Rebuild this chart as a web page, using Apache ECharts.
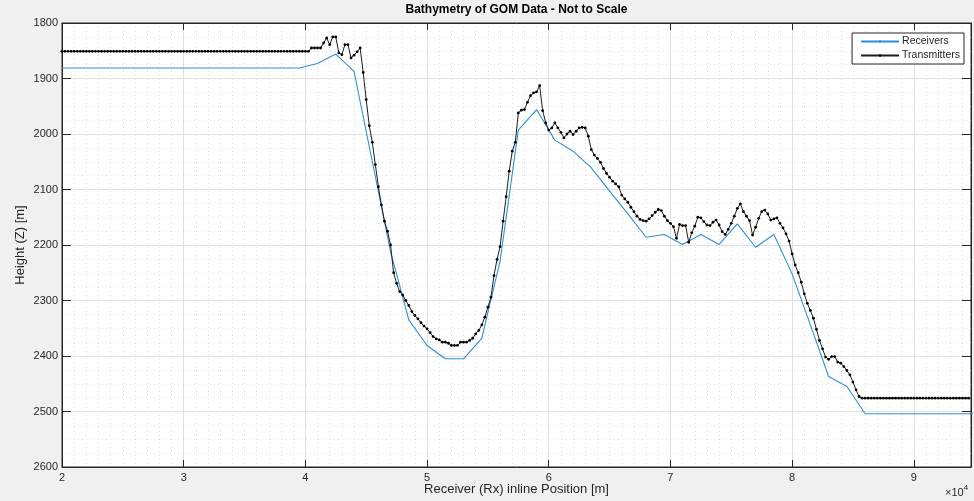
<!DOCTYPE html>
<html>
<head>
<meta charset="utf-8">
<script src="https://cdn.jsdelivr.net/npm/echarts@6/dist/echarts.min.js"></script>
<style>
html,body{margin:0;padding:0;background:#f0f0f0;}
#chart{width:974px;height:501px;}
</style>
</head>
<body>
<div id="chart"></div>
<script>
// ---- Data (x in metres, depth Z in metres) ----
const chartTitle = 'Bathymetry of GOM Data - Not to Scale';
const xAxisTitle = 'Receiver (Rx) inline Position [m]';
const yAxisTitle = 'Height (Z) [m]';
const seriesNames = ['Receivers', 'Transmitters'];
const xTickLabels = ['2','3','4','5','6','7','8','9'];
const yTickLabels = ['1800','1900','2000','2100','2200','2300','2400','2500','2600'];

const rxX = [20000,21500,23000,24500,26000,27500,29000,30500,32000,33500,35000,36500,38000,39500,
  41000,42500,44000,45500,47000,48500,50000,51500,53000,54500,56000,57500,59000,60500,62000,63500,
  65000,66500,68000,69500,71000,72500,74000,75500,77000,78500,80000,81500,83000,84500,86000,
  87500,89000,90500,92000,93500,95000];
const rxZ = [1881,1881,1881,1881,1881,1881,1881,1881,1881,1881,1881,1881,1881,1881,
  1873,1856,1887,2050,2212,2335,2381,2405,2405,2368,2229,1993,1956,2011,2031,2061,
  2103,2144,2186,2181,2199,2181,2199,2162,2204,2181,2252,2344,2437,2455,2504,
  2504,2504,2504,2504,2504,2504];

const txX = [
  20000,20250,20500,20750,21000,21250,21500,21750,
  22000,22250,22500,22750,23000,23250,23500,23750,
  24000,24250,24500,24750,25000,25250,25500,25750,
  26000,26250,26500,26750,27000,27250,27500,27750,
  28000,28250,28500,28750,29000,29250,29500,29750,
  30000,30250,30500,30750,31000,31250,31500,31750,
  32000,32250,32500,32750,33000,33250,33500,33750,
  34000,34250,34500,34750,35000,35250,35500,35750,
  36000,36250,36500,36750,37000,37250,37500,37750,
  38000,38250,38500,38750,39000,39250,39500,39750,
  40000,40250,40500,40750,41000,41250,41500,41750,
  42000,42250,42500,42750,43000,43250,43500,43750,
  44000,44250,44500,44750,45000,45250,45500,45750,
  46000,46250,46500,46750,47000,47250,47500,47750,
  48000,48250,48500,48750,49000,49250,49500,49750,
  50000,50250,50500,50750,51000,51250,51500,51750,
  52000,52250,52500,52750,53000,53250,53500,53750,
  54000,54250,54500,54750,55000,55250,55500,55750,
  56000,56250,56500,56750,57000,57250,57500,57750,
  58000,58250,58500,58750,59000,59250,59500,59750,
  60000,60250,60500,60750,61000,61250,61500,61750,
  62000,62250,62500,62750,63000,63250,63500,63750,
  64000,64250,64500,64750,65000,65250,65500,65750,
  66000,66250,66500,66750,67000,67250,67500,67750,
  68000,68250,68500,68750,69000,69250,69500,69750,
  70000,70250,70500,70750,71000,71250,71500,71750,
  72000,72250,72500,72750,73000,73250,73500,73750,
  74000,74250,74500,74750,75000,75250,75500,75750,
  76000,76250,76500,76750,77000,77250,77500,77750,
  78000,78250,78500,78750,79000,79250,79500,79750,
  80000,80250,80500,80750,81000,81250,81500,81750,
  82000,82250,82500,82750,83000,83250,83500,83750,
  84000,84250,84500,84750,85000,85250,85500,85750,
  86000,86250,86500,86750,87000,87250,87500,87750,
  88000,88250,88500,88750,89000,89250,89500,89750,
  90000,90250,90500,90750,91000,91250,91500,91750,
  92000,92250,92500,92750,93000,93250,93500,93750,
  94000,94250,94500,94750];
const txZ = [
  1851,1851,1851,1851,1851,1851,1851,1851,1851,1851,
  1851,1851,1851,1851,1851,1851,1851,1851,1851,1851,
  1851,1851,1851,1851,1851,1851,1851,1851,1851,1851,
  1851,1851,1851,1851,1851,1851,1851,1851,1851,1851,
  1851,1851,1851,1851,1851,1851,1851,1851,1851,1851,
  1851,1851,1851,1851,1851,1851,1851,1851,1851,1851,
  1851,1851,1851,1851,1851,1851,1851,1851,1851,1851,
  1851,1851,1851,1851,1851,1851,1851,1851,1851,1851,
  1851,1851,
  1845,1845,1845,1845,1836,1827,1839,1825,1825,1854,
  1857,1839,1839,1863,1858,1852,1845,1889,1938,1985,
  2015,2055,2095,2128,2157,2175,2200,2250,2269,2284,
  2290,2300,2309,2320,2327,2333,2340,2346,2351,2358,
  2365,2369,2371,2375,2375,2377,2381,2381,2381,2375,
  2375,2375,2372,2368,2360,2354,2344,2330,2312,2294,
  2255,2226,2203,2157,2113,2067,2031,2015,1962,1957,
  1956,1943,1931,1926,1924,1913,1958,1980,1993,1989,
  1980,1989,1997,2007,2000,1995,2001,1995,1989,1988,
  1989,2004,2028,2038,2044,2051,2062,2071,2078,2085,
  2090,2095,2110,2117,2123,2132,2140,2148,2154,2156,
  2157,2153,2147,2141,2136,2138,2148,2156,2161,2167,
  2188,2163,2165,2165,2195,2178,2166,2150,2151,2158,
  2164,2165,2159,2155,2164,2176,2181,2172,2161,2148,
  2134,2126,2140,2148,2156,2182,2168,2152,2140,2137,
  2144,2155,2153,2151,2161,2169,2180,2193,2216,2236,
  2250,2267,2288,2305,2318,2332,2352,2372,2387,2402,
  2406,2401,2401,2411,2413,2419,2426,2434,2447,2461,
  2473,
  2476,2476,2476,2476,2476,2476,2476,2476,2476,2476,
  2476,2476,2476,2476,2476,2476,2476,2476,2476,2476,
  2476,2476,2476,2476,2476,2476,2476,2476,2476,2476,
  2476,2476,2476,2476,2476,2476,2476];

const X_MIN = 20000, X_MAX = 94700, X_STEP = 10000;
const Y_MIN = 1800, Y_MAX = 2600, Y_STEP = 100;

const rxData = rxX.map((x, i) => [x, rxZ[i]]);
const txData = txX.map((x, i) => [x, txZ[i]]);

const txtColor = '#262626';
const fontFam = '"Liberation Sans", Arial, Helvetica, sans-serif';

const chart = echarts.init(document.getElementById('chart'), null, {renderer: 'canvas'});

const gridL = 62, gridT = 23, gridR = 3, gridB = 34;
const plotCx = gridL + (974 - gridL - gridR) / 2;

const option = {
  backgroundColor: '#f0f0f0',
  animation: false,
  textStyle: {fontFamily: fontFam},
  grid: {
    left: gridL, top: gridT, right: gridR, bottom: gridB,
    show: true, backgroundColor: '#ffffff', borderColor: txtColor, borderWidth: 1,
    containLabel: false
  },
  legend: {
    data: seriesNames,
    orient: 'vertical',
    right: 10, top: 33,
    backgroundColor: '#ffffff',
    borderColor: txtColor, borderWidth: 1, borderRadius: 0,
    padding: [3, 4, 3, 8],
    itemGap: 3, itemWidth: 38, itemHeight: 3,
    textStyle: {fontSize: 10.5, color: txtColor, fontFamily: fontFam, padding: [0,0,0,-2]}
  },
  xAxis: [{
    type: 'value', min: X_MIN, max: X_MAX, interval: X_STEP, position: 'bottom',
    axisLine: {show: true, onZero: false, lineStyle: {color: txtColor, width: 1}},
    axisTick: {show: true, inside: true, length: 7, lineStyle: {color: txtColor}},
    axisLabel: {
      color: txtColor, fontSize: 11, margin: 5, showMaxLabel: false,
      formatter: v => { const k = Math.round((v - X_MIN) / X_STEP); return (k >= 0 && k < xTickLabels.length && Math.abs(v - (X_MIN + k*X_STEP)) < 1) ? xTickLabels[k] : ''; }
    },
    splitLine: {show: true, lineStyle: {color: '#e0e0e0', width: 1}},
    minorTick: {show: true, splitNumber: 10, length: 0},
    minorSplitLine: {show: true, lineStyle: {color: '#dedede', width: 1, type: [1, 3]}}
  }, {
    type: 'value', min: X_MIN, max: X_MAX, interval: X_STEP, position: 'top',
    axisLine: {show: true, onZero: false, lineStyle: {color: txtColor, width: 1}},
    axisTick: {show: true, inside: true, length: 7, lineStyle: {color: txtColor}},
    axisLabel: {show: false}, splitLine: {show: false}
  }],
  yAxis: [{
    type: 'value', inverse: true, min: Y_MIN, max: Y_MAX, interval: Y_STEP, position: 'left',
    axisLine: {show: true, onZero: false, lineStyle: {color: txtColor, width: 1}},
    axisTick: {show: true, inside: true, length: 9, lineStyle: {color: txtColor}},
    axisLabel: {
      color: txtColor, fontSize: 11, margin: 4,
      formatter: v => { const k = Math.round((v - Y_MIN) / Y_STEP); return yTickLabels[k] || ''; }
    },
    splitLine: {show: true, lineStyle: {color: '#e0e0e0', width: 1}},
    minorTick: {show: true, splitNumber: 4, length: 0},
    minorSplitLine: {show: true, lineStyle: {color: '#dedede', width: 1, type: [1, 3]}}
  }, {
    type: 'value', inverse: true, min: Y_MIN, max: Y_MAX, interval: Y_STEP, position: 'right',
    axisLine: {show: true, onZero: false, lineStyle: {color: txtColor, width: 1}},
    axisTick: {show: true, inside: true, length: 9, lineStyle: {color: txtColor}},
    axisLabel: {show: false}, splitLine: {show: false}
  }],
  series: [{
    name: seriesNames[0], type: 'line', xAxisIndex: 0, yAxisIndex: 0,
    data: rxData, symbol: 'none', showSymbol: false, clip: true,
    lineStyle: {color: '#2f8fd3', width: 1.1},
    itemStyle: {color: '#2f8fd3'},
    emphasis: {disabled: true}, z: 3
  }, {
    name: seriesNames[1], type: 'line', xAxisIndex: 0, yAxisIndex: 0,
    data: txData, symbol: 'circle', symbolSize: 2.8, showSymbol: true, clip: true,
    lineStyle: {color: '#1e1e1e', width: 1},
    itemStyle: {color: '#000000', borderWidth: 0},
    emphasis: {disabled: true}, z: 4
  }],
  graphic: [{
    type: 'text', x: plotCx, y: 4,
    style: {text: chartTitle, font: 'bold 12px ' + fontFam, fill: '#000', textAlign: 'center', textVerticalAlign: 'top'}
  }, {
    type: 'text', x: plotCx, y: 483,
    style: {text: xAxisTitle, font: '13px ' + fontFam, fill: txtColor, textAlign: 'center', textVerticalAlign: 'top'}
  }, {
    type: 'text', x: 20, y: gridT + (501 - gridT - gridB) / 2, rotation: Math.PI / 2,
    style: {text: yAxisTitle, font: '13px ' + fontFam, fill: txtColor, textAlign: 'center', textVerticalAlign: 'middle'}
  }, {
    type: 'text', x: 945, y: 484,
    style: {
      text: '{a|×10}{b|4}',
      rich: {
        a: {fontSize: 11, fill: txtColor, fontFamily: fontFam, verticalAlign: 'bottom'},
        b: {fontSize: 8, fill: txtColor, fontFamily: fontFam, verticalAlign: 'top', padding: [0,0,6,0]}
      }
    }
  }]
};
chart.setOption(option);
</script>
</body>
</html>
